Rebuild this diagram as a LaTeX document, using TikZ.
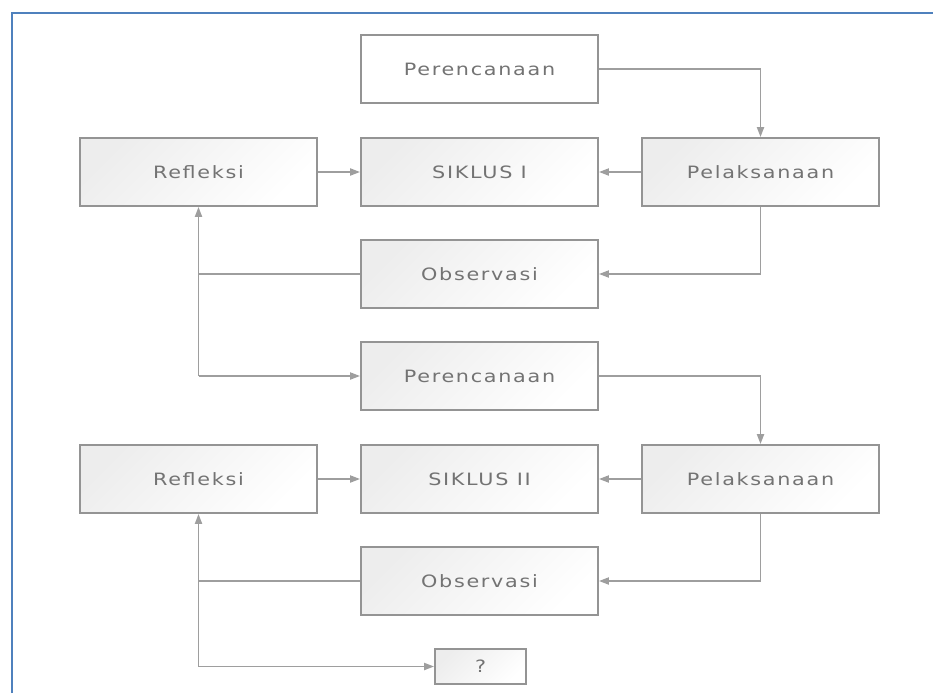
\documentclass[tikz,border=0pt]{standalone}
\usepackage{fontspec}
\usepackage{tikz}
\usetikzlibrary{
  arrows.meta,
  calc
}
\newfontfamily\stagefont[LetterSpace=10,FakeStretch=1.22]{DejaVu Sans}
\definecolor{frameBlue}{HTML}{4F81BD}
\colorlet{boxLine}{black!42}
\colorlet{boxText}{black!55}
\colorlet{linkLine}{black!38}
\tikzset{
  stage/.style={draw=boxLine,line width=1.8pt,minimum width=237pt,minimum height=68pt,
    inner sep=0pt,font=\stagefont\fontsize{17}{20}\selectfont,text=boxText,
    top color=black!7,bottom color=white,shading angle=45},
  plain stage/.style={stage,shade=none,fill=white},
  link/.style={draw=linkLine,line width=1.9pt,-{Triangle[length=10pt,width=7pt]}},
  wire/.style={draw=linkLine,line width=1.9pt},
}

\begin{document}
\begin{tikzpicture}[x=1pt,y=-1pt]
\useasboundingbox (0,0) rectangle (933,693);
\draw[frameBlue,line width=2pt] (11.5,693) -- (11.5,13.5) -- (933,13.5);

% siklus I
\node[plain stage] (plan1) at (479.5,69) {Perencanaan};
\node[stage] (refl1) at (198.5,172) {Refleksi};
\node[stage] (cyc1) at (479.5,172) {SIKLUS I};
\node[stage] (act1) at (760.5,172) {Pelaksanaan};
\node[stage] (obs1) at (479.5,274) {Observasi};

% siklus II
\node[stage] (plan2) at (479.5,376) {Perencanaan};
\node[stage] (refl2) at (198.5,479) {Refleksi};
\node[stage] (cyc2) at (479.5,479) {SIKLUS II};
\node[stage] (act2) at (760.5,479) {Pelaksanaan};
\node[stage] (obs2) at (479.5,581) {Observasi};

\node[stage,minimum width=91pt,minimum height=35pt] (next) at (480.5,666.5) {?};

\coordinate (turn1) at (refl1.south |- plan2.west);
\coordinate (turn2) at (refl2.south |- next.west);

\draw[link] (plan1.east) -| (act1.north);
\draw[link] (act1.west) -- (cyc1.east);
\draw[link] (refl1.east) -- (cyc1.west);
\draw[link] (act1.south) |- (obs1.east);
\draw[wire] (obs1.west) -- (obs1.west -| turn1);
\draw[link] (turn1) -- (refl1.south);
\draw[link] (turn1) -- (plan2.west);

\draw[link] (plan2.east) -| (act2.north);
\draw[link] (act2.west) -- (cyc2.east);
\draw[link] (refl2.east) -- (cyc2.west);
\draw[link] (act2.south) |- (obs2.east);
\draw[wire] (obs2.west) -- (obs2.west -| turn2);
\draw[link] (turn2) -- (refl2.south);
\draw[link] (turn2) -- (next.west);
\end{tikzpicture}
\end{document}
